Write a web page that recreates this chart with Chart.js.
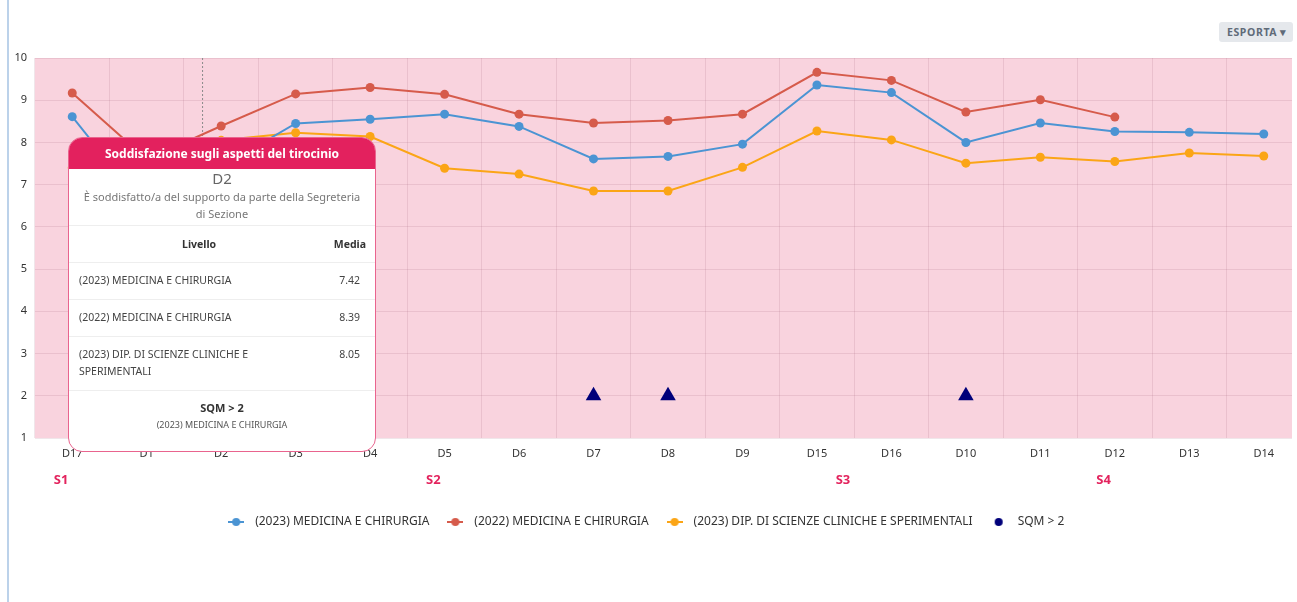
<!DOCTYPE html>
<html>
<head>
<meta charset="utf-8">
<script src="https://cdn.jsdelivr.net/npm/chart.js@4"></script>
<style>
  html, body { margin: 0; padding: 0; background: #fff; }
  body { width: 1297px; height: 602px; position: relative; overflow: hidden; font-family: "Noto Sans", sans-serif; }
  #frame { position: absolute; left: 0; top: 0; width: 1292px; height: 602px; overflow: hidden; }
  #chart { position: absolute; left: -19px; top: 0; }
  #edge { position: absolute; left: 7px; top: 0; width: 2px; height: 602px; background: #bcd2ea; }
  #export { position: absolute; left: 1219px; top: 22px; width: 74px; height: 20px; background: #e5e8ec; border-radius: 3px;
            font: bold 10.5px "Noto Sans", sans-serif; color: #5f6b79; letter-spacing: 0.6px; line-height: 20px; text-indent: 8px; }
  #tip { position: absolute; left: 68px; top: 137px; width: 306px; height: 313px; background: #fff;
         border: 1.5px solid #e9648e; border-radius: 14px; overflow: hidden; color: #444; }
  #tip .head { background: #e3215e; color: #fff; font: bold 12px "Noto Sans", sans-serif; text-align: center; height: 31px; line-height: 31px; }
  #tip .cat { text-align: center; font-size: 15px; color: #666; line-height: 19px; }
  #tip .desc { text-align: center; font-size: 11px; color: #777; line-height: 17px; padding: 0 12px; }
  #tip table { width: 100%; border-collapse: collapse; font-size: 10.5px; margin-top: 3px; }
  #tip th { font-weight: bold; color: #333; height: 34px; border-top: 1px solid #eee; border-bottom: 1px solid #eee; }
  #tip th.v { text-align: right; padding-right: 9px; }
  #tip td { padding: 9px 10px 10px; border-bottom: 1px solid #eee; vertical-align: top; color: #444; line-height: 17px; }
  #tip td.v { text-align: right; padding-right: 15px; }
  #tip .foot { text-align: center; padding-top: 8px; }
  #tip .foot b { font-size: 11px; color: #333; display: block; line-height: 17px; }
  #tip .foot span { font-size: 9px; color: #555; display: block; line-height: 17px; }
</style>
</head>
<body>
<div id="frame"><canvas id="chart" width="1329" height="538"></canvas></div>
<div id="edge"></div>
<div id="export">ESPORTA &#9662;</div>
<div id="tip"></div>
<script>
const labels = ["D17", "D1", "D2", "D3", "D4", "D5", "D6", "D7", "D8", "D9", "D15", "D16", "D10", "D11", "D12", "D13", "D14"];
const seriesNames = ["(2023) MEDICINA E CHIRURGIA", "(2022) MEDICINA E CHIRURGIA", "(2023) DIP. DI SCIENZE CLINICHE E SPERIMENTALI", "SQM > 2"];
const med2023 = [8.61, 6.4, 7.42, 8.45, 8.55, 8.67, 8.38, 7.61, 7.67, 7.96, 9.36, 9.18, 8.0, 8.46, 8.26, 8.24, 8.2];
const med2022 = [9.17, 7.6, 8.39, 9.15, 9.3, 9.14, 8.67, 8.46, 8.52, 8.67, 9.66, 9.47, 8.72, 9.01, 8.6, null, null];
const dip2023 = [7.4, 7.5, 8.05, 8.23, 8.14, 7.39, 7.25, 6.85, 6.85, 7.41, 8.27, 8.06, 7.51, 7.65, 7.55, 7.75, 7.68];
const sqm = [null, null, 2, null, null, null, null, 2, 2, null, null, null, 2, null, null, null, null];
const yTicks = [1, 2, 3, 4, 5, 6, 7, 8, 9, 10];
const sections = ["S1", "S2", "S3", "S4"];
const sectionPos = [-0.15, 4.85, 10.35, 13.85];

const colors = ["#4b94d3", "#d65b4b", "#fba516", "#00007a"];

// little line+dot markers for the legend
function marker(color, withLine) {
  const c = document.createElement("canvas");
  c.width = 16; c.height = 10;
  const g = c.getContext("2d");
  if (withLine) {
    g.strokeStyle = color; g.lineWidth = 2;
    g.beginPath(); g.moveTo(0, 5); g.lineTo(16, 5); g.stroke();
  }
  g.fillStyle = color;
  g.beginPath(); g.arc(8, 5, 4, 0, Math.PI * 2); g.fill();
  return c;
}

const plotBg = {
  id: "plotBg",
  beforeDraw(chart) {
    const { ctx, chartArea: a } = chart;
    ctx.save();
    ctx.fillStyle = "#f9d3de";
    ctx.fillRect(a.left, a.top, a.right - a.left, a.bottom - a.top);
    ctx.restore();
  },
  beforeDatasetsDraw(chart) {
    // hover crosshair
    const { ctx, chartArea: a, scales: { x } } = chart;
    const px = x.getPixelForValue(1.75);
    ctx.save();
    ctx.strokeStyle = "#8a8a8a"; ctx.lineWidth = 1; ctx.setLineDash([2, 2]);
    ctx.beginPath(); ctx.moveTo(px, a.top); ctx.lineTo(px, a.bottom); ctx.stroke();
    ctx.restore();
  },
  afterDraw(chart) {
    const { ctx, scales: { x } } = chart;
    ctx.save();
    ctx.fillStyle = "#e3245e";
    ctx.font = "bold 13px 'Noto Sans', sans-serif";
    ctx.textAlign = "center"; ctx.textBaseline = "middle";
    sections.forEach((s, i) => ctx.fillText(s, x.getPixelForValue(sectionPos[i]), 480));
    ctx.restore();
  }
};

const lineSet = (i, data) => ({
  label: seriesNames[i],
  data: data,
  borderColor: colors[i],
  backgroundColor: colors[i],
  borderWidth: 2,
  pointRadius: 4.5,
  pointBorderWidth: 0,
  tension: 0,
  pointStyle: "circle"
});

new Chart(document.getElementById("chart"), {
  type: "line",
  data: {
    labels: labels,
    datasets: [
      lineSet(0, med2023),
      lineSet(1, med2022),
      lineSet(2, dip2023),
      {
        label: seriesNames[3],
        data: sqm,
        showLine: false,
        pointStyle: "triangle",
        pointRadius: 9,
        pointBorderWidth: 0,
        backgroundColor: colors[3],
        borderColor: colors[3]
      }
    ]
  },
  options: {
    responsive: false,
    animation: false,
    layout: { padding: { top: 58, right: 3.4, left: 0, bottom: 0 } },
    plugins: {
      tooltip: { enabled: false },
      legend: {
        position: "bottom",
        labels: {
          usePointStyle: true,
          pointStyleWidth: 26,
          padding: 13,
          color: "#333",
          font: { family: "'Noto Sans', sans-serif", size: 12 },
          generateLabels(chart) {
            return chart.data.datasets.map((d, i) => ({
              text: d.label,
              fillStyle: colors[i],
              strokeStyle: colors[i],
              lineWidth: 0,
              pointStyle: marker(colors[i], i < 3),
              datasetIndex: i,
              fontColor: "#333"
            }));
          }
        }
      }
    },
    scales: {
      x: {
        offset: true,
        grid: { offset: true, color: "rgba(150,80,105,0.14)", drawTicks: false },
        border: { display: false },
        ticks: { color: "#333", padding: 9, font: { family: "'Noto Sans', sans-serif", size: 11 } },
        afterFit(s) { s.height = 65; }
      },
      y: {
        min: 1, max: 10,
        afterBuildTicks(s) { s.ticks = yTicks.map(v => ({ value: v })); },
        grid: { color: "rgba(150,80,105,0.14)", drawTicks: false },
        border: { display: false },
        ticks: { color: "#333", padding: 8, font: { family: "'Noto Sans', sans-serif", size: 11 } },
        afterFit(s) { s.width = 54; }
      }
    }
  },
  plugins: [plotBg]
});

// fixed tooltip for D2, filled from the data arrays
const ti = labels.indexOf("D2");
const rows = [med2023[ti], med2022[ti], dip2023[ti]];
document.getElementById("tip").innerHTML =
  '<div class="head">Soddisfazione sugli aspetti del tirocinio</div>' +
  '<div class="cat">' + labels[ti] + '</div>' +
  '<div class="desc">È soddisfatto/a del supporto da parte della Segreteria di Sezione</div>' +
  '<table><tr><th>Livello</th><th class="v">Media</th></tr>' +
  rows.map((v, i) => '<tr><td>' + seriesNames[i] + '</td><td class="v">' + v.toFixed(2) + '</td></tr>').join("") +
  '</table>' +
  '<div class="foot"><b>' + seriesNames[3] + '</b><span>' + seriesNames[0] + '</span></div>';
</script>
</body>
</html>
